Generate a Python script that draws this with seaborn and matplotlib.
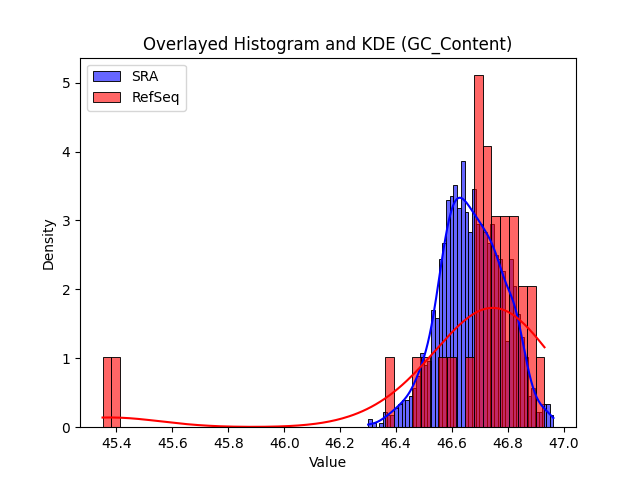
import numpy as np
import pandas as pd
import matplotlib
matplotlib.use("Agg")
import matplotlib.pyplot as plt
import seaborn as sns

# SRA GC content: bin representative values and counts
sra_values = [46.300, 46.320, 46.333, 46.346, 46.360, 46.373, 46.386, 46.399, 46.413, 46.426,
              46.439, 46.452, 46.466, 46.479, 46.492, 46.505, 46.518, 46.532, 46.545, 46.558,
              46.571, 46.585, 46.598, 46.611, 46.624, 46.638, 46.651, 46.664, 46.677, 46.691,
              46.704, 46.717, 46.730, 46.744, 46.757, 46.770, 46.783, 46.797, 46.810, 46.823,
              46.836, 46.849, 46.863, 46.876, 46.889, 46.902, 46.916, 46.929, 46.942, 46.962]
sra_counts = [2, 1, 0, 1, 4, 3, 3, 5, 6, 7,
              7, 8, 10, 13, 19, 16, 17, 30, 28, 43,
              47, 58, 59, 62, 56, 68, 55, 50, 61, 52,
              52, 50, 47, 52, 44, 43, 40, 22, 43, 36,
              29, 23, 18, 8, 10, 4, 4, 6, 6, 3]

# RefSeq GC content values and counts
refseq_values = [45.351, 45.398, 46.377, 46.472, 46.503, 46.566, 46.598,
                 46.661, 46.693, 46.724, 46.756, 46.788, 46.819, 46.851, 46.882, 46.930]
refseq_counts = [1, 1, 1, 1, 1, 1, 1,
                 1, 5, 4, 3, 3, 3, 2, 2, 1]

sra = np.repeat(sra_values, sra_counts)
refseq = np.repeat(refseq_values, refseq_counts)

fig, ax = plt.subplots(figsize=(6.4, 4.8), dpi=100)
sns.histplot(x=sra, bins=50, stat="density", kde=True, color="blue", alpha=0.6,
             edgecolor="black", label="SRA", ax=ax)
sns.histplot(x=refseq, bins=50, stat="density", kde=True, color="red", alpha=0.6,
             edgecolor="black", label="RefSeq", ax=ax)
ax.set_title("Overlayed Histogram and KDE (GC_Content)")
ax.set_xlabel("Value")
ax.set_ylabel("Density")
ax.legend(loc="upper left")
fig.savefig("out.png", dpi=100)
